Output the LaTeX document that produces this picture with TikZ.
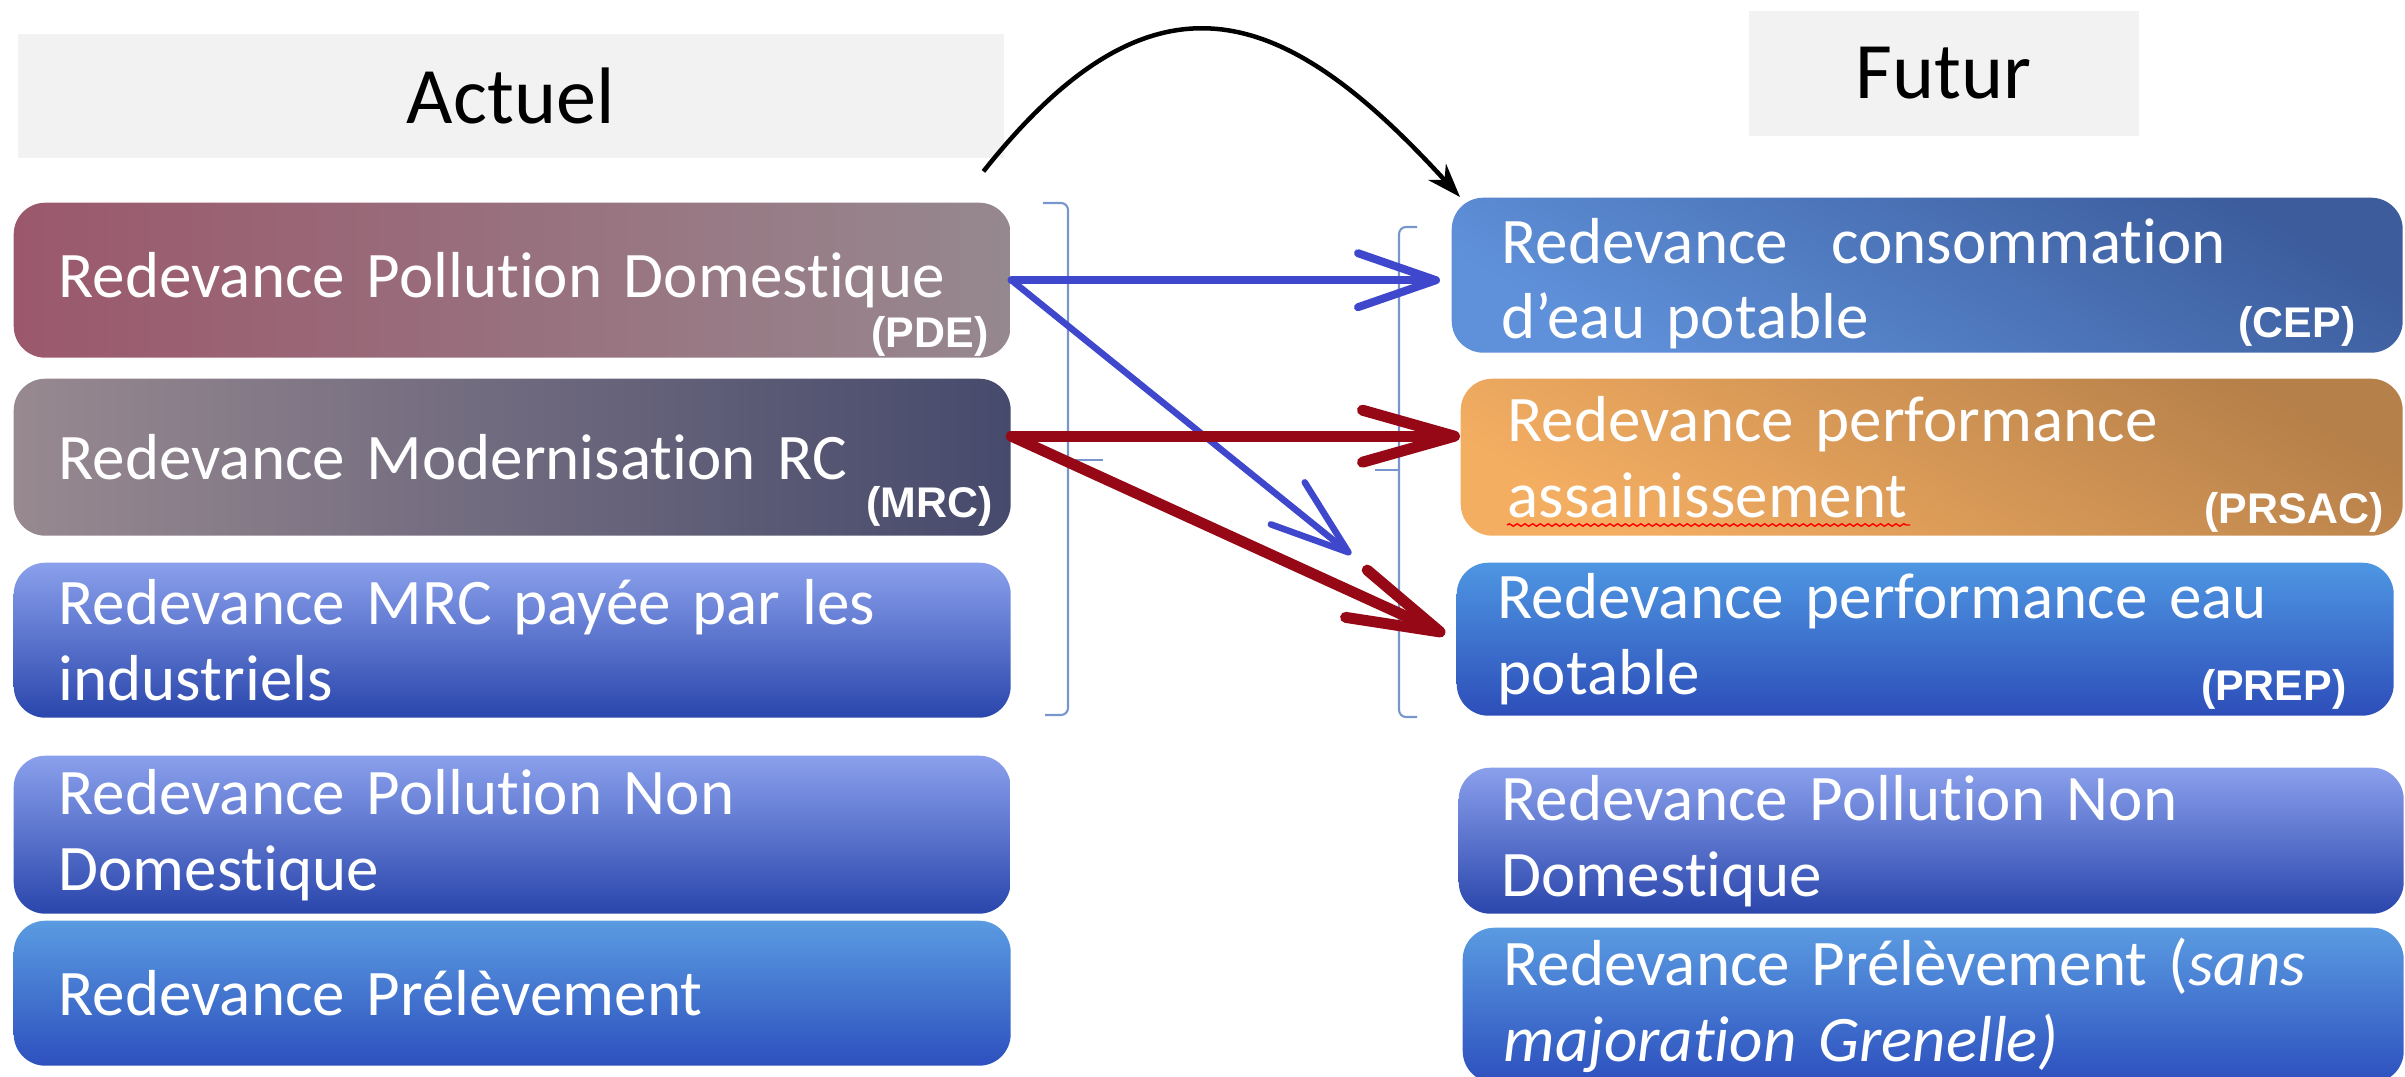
\documentclass[tikz,border=0pt]{standalone}
\usepackage{fontspec}
\setmainfont{Carlito}[Ligatures=NoCommon]
\newfontfamily\abbrfont{Liberation Sans}
\usetikzlibrary{arrows.meta,decorations.pathmorphing}

\definecolor{headgray}{RGB}{242,242,242}
\definecolor{pdeL}{RGB}{155,88,108}
\definecolor{pdeR}{RGB}{150,136,143}
\definecolor{mrcL}{RGB}{152,137,144}
\definecolor{mrcR}{RGB}{70,74,108}
\definecolor{blueT}{RGB}{138,160,236}
\definecolor{blueB}{RGB}{42,70,172}
\definecolor{prelT}{RGB}{90,155,225}
\definecolor{prelB}{RGB}{45,80,190}
\definecolor{cepT}{RGB}{60,92,156}
\definecolor{cepB}{RGB}{95,145,218}
\definecolor{orT}{RGB}{182,128,74}
\definecolor{orB}{RGB}{244,174,98}
\definecolor{prepT}{RGB}{78,150,226}
\definecolor{prepB}{RGB}{45,78,185}
\definecolor{arrblue}{RGB}{63,72,204}
\definecolor{arrred}{RGB}{150,8,22}
\definecolor{bracecol}{RGB}{120,150,205}

\tikzset{
  head/.style={fill=headgray, inner sep=0pt, font=\fontsize{22.8}{26}\selectfont},
  box/.style={rounded corners=9pt, anchor=north west, text=white, align=left,
    inner xsep=0.45cm, inner ysep=0pt, font=\fontsize{18.5}{21.6}\selectfont},
  abbr/.style={text=white, inner sep=0pt, anchor=base east,
    font=\abbrfont\bfseries\fontsize{12.2}{14}\selectfont},
  bluearr/.style={arrblue, line width=0.08cm, line cap=round,
    -{Straight Barb[length=0.78cm,width=0.54cm,round]}},
  redarr/.style={arrred, line width=0.11cm, line cap=round,
    -{Straight Barb[length=0.92cm,width=0.52cm,round]}},
  brace/.style={bracecol, line width=0.6pt, rounded corners=2pt}
}

\begin{document}
\begin{tikzpicture}
        \useasboundingbox (0,0) rectangle (24.05,-10.77);

        % Column headers
        \node[head, anchor=north west, minimum width=9.86cm, minimum height=1.24cm] (actuel) at (0.17,-0.33) {Actuel};
        \node[head, anchor=north west, minimum width=3.90cm, minimum height=1.25cm] (futur) at (17.48,-0.10) {Futur};

        % Current charges (left column)
        \node[box, left color=pdeL, right color=pdeR, minimum width=9.97cm, text width=9.07cm, minimum height=1.55cm] (pde) at (0.13,-2.02) {Redevance Pollution Domestique};
        \node[box, left color=mrcL, right color=mrcR, minimum width=9.97cm, text width=9.07cm, minimum height=1.57cm] (mrc) at (0.13,-3.78) {Redevance Modernisation RC};
        \node[box, top color=blueT, bottom color=blueB, minimum width=9.97cm, text width=9.07cm, minimum height=1.55cm] (ind) at (0.13,-5.62) {Redevance MRC payée par les\\industriels};
        \node[box, top color=blueT, bottom color=blueB, minimum width=9.97cm, text width=9.07cm, minimum height=1.58cm] (pnd) at (0.13,-7.55) {Redevance Pollution Non\\Domestique};
        \node[box, top color=prelT, bottom color=prelB, minimum width=9.97cm, text width=9.07cm, minimum height=1.45cm] (prel) at (0.13,-9.20) {Redevance Prélèvement};

        % Future charges (right column)
        \node[box, top color=cepT, bottom color=cepB, shading angle=-30, minimum width=9.51cm, text width=8.51cm, inner xsep=0.5cm, minimum height=1.55cm] (cep) at (14.51,-1.97) {\rule{0pt}{0.62cm}Redevance\ \ consommation\\d’eau potable};
        \node[box, top color=orT, bottom color=orB, shading angle=-30, minimum width=9.42cm, text width=8.48cm, inner xsep=0.47cm, minimum height=1.57cm] (prsac) at (14.60,-3.78) {Redevance performance\\assainissement};
        \node[box, top color=prepT, bottom color=prepB, minimum width=9.37cm, text width=8.55cm, inner xsep=0.41cm, minimum height=1.53cm] (prep) at (14.56,-5.62) {Redevance performance eau\\potable};
        \node[box, top color=blueT, bottom color=blueB, minimum width=9.45cm, text width=8.59cm, inner xsep=0.43cm, minimum height=1.46cm] (pnd2) at (14.58,-7.67) {Redevance Pollution Non\\Domestique};
        \node[box, top color=prelT, bottom color=prelB, minimum width=9.41cm, text width=8.59cm, inner xsep=0.41cm, minimum height=1.55cm] (prel2) at (14.62,-9.27) {Redevance Prélèvement (\textit{sans}\\\textit{majoration Grenelle)}};

        % Abbreviations
        \node[abbr] (pdeab) at (9.89,-3.47) {(PDE)};
        \node[abbr] (mrcab) at (9.93,-5.17) {(MRC)};
        \node[abbr] (cepab) at (23.56,-3.37) {(CEP)};
        \node[abbr] (prsacab) at (23.84,-5.23) {(PRSAC)};
        \node[abbr] (prepab) at (23.47,-7.00) {(PREP)};

        % Spelling squiggle
        \draw[red, decorate, decoration={snake, amplitude=0.35pt, segment length=2.2pt}] (15.07,-5.25) -- (19.10,-5.25);

        % Braces
        \draw[brace] (10.43,-2.03) -- (10.68,-2.03) -- (10.68,-7.15) -- (10.45,-7.15);
        \draw[brace] (10.68,-4.60) -- (11.03,-4.60);
        \draw[brace] (14.17,-2.27) -- (13.99,-2.27) -- (13.99,-7.17) -- (14.17,-7.17);
        \draw[brace] (13.99,-4.70) -- (13.75,-4.70);

        % Arc from actuel to futur
        \draw[line width=0.045cm, -{Stealth[length=0.34cm,width=0.24cm]}] ([shift={(-0.21,-0.13)}]actuel.south east) .. controls (11.55,0.45) and (12.85,-0.05) .. ([xshift=0.09cm]cep.north west);

        % Transfer arrows
        \draw[bluearr, shorten >=0.11cm] (pde.east) -- (pde.east -| cep.west);
        \draw[bluearr, line width=0.065cm, shorten >=1.35cm] (pde.east) -- (prep.west);
        \draw[redarr] ([yshift=0.21cm]mrc.east) -- ([yshift=0.21cm]prsac.west);
        \draw[redarr, shorten >=0.12cm] ([yshift=0.21cm]mrc.east) -- (prep.west);

    \end{tikzpicture}
\end{document}
